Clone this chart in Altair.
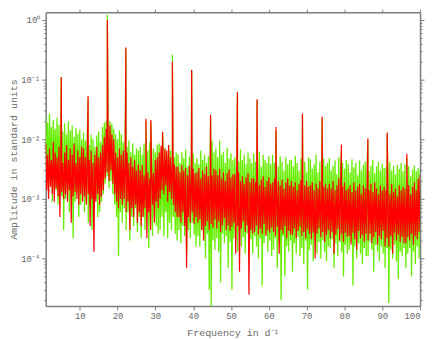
import altair as alt
import pandas as pd

# frequency grid of the noise background (d^-1), 0.25 d^-1 apart, 1 .. 100
freqs = [round(1 + 0.25 * i, 2) for i in range(397)]

# green spectrum, background amplitudes in units of 1e-4 (20 values per 5 d^-1)
green_noise = [
    240, 18, 190, 12, 270, 22, 160, 9, 210, 25, 150, 14, 230, 8, 175, 20, 200, 11, 135, 3,
    185, 10, 120, 15, 200, 6, 140, 12, 170, 2.2, 110, 9, 155, 13, 125, 5, 145, 8, 100, 11,
    130, 6, 95, 9, 140, 4, 80, 8, 120, 3, 100, 7, 75, 10, 115, 5, 135, 6, 90, 9,
    160, 12, 190, 18, 205, 24, 170, 15, 200, 20, 180, 12, 150, 8, 120, 5, 100, 1.1, 140, 6,
    120, 4, 90, 7, 110, 3, 75, 6, 95, 2, 60, 5, 85, 3.5, 55, 7, 70, 2.8, 65, 5,
    75, 2.2, 55, 5, 85, 3, 45, 6, 65, 1.5, 90, 4, 50, 2.4, 70, 5, 60, 3.5, 80, 2.6,
    85, 3, 60, 5, 95, 2.4, 70, 6, 55, 2.2, 80, 4, 65, 3, 90, 5, 50, 2.6, 60, 2,
    55, 3, 40, 1.8, 62, 3.5, 48, 2.4, 68, 1.2, 35, 3, 52, 2.2, 45, 4, 58, 2.5, 40, 1.6,
    48, 2.4, 38, 1.6, 65, 3, 45, 2, 55, 1.0, 40, 2.6, 52, 0.3, 70, 0.16, 95, 2, 60, 1.4,
    70, 2.2, 50, 1.3, 95, 0.4, 55, 2.6, 62, 1.8, 40, 2.4, 72, 0.7, 48, 1.9, 58, 0.3, 45, 2.2,
    50, 2.0, 62, 1.3, 42, 2.8, 68, 1.6, 45, 2.3, 55, 1.2, 38, 2.6, 60, 1.5, 48, 2.1, 40, 1.2,
    58, 2.4, 42, 1.6, 50, 1.0, 62, 2.2, 35, 0.35, 55, 1.8, 45, 2.5, 40, 1.3, 52, 2, 38, 1.1,
    55, 1.4, 40, 2.2, 48, 0.7, 35, 1.8, 52, 0.2, 42, 2.4, 30, 0.5, 50, 1.6, 38, 1.3, 45, 2.0,
    45, 0.6, 35, 1.8, 53, 1.2, 40, 2.3, 30, 1.1, 48, 1.5, 36, 0.8, 42, 2.0, 28, 0.3, 50, 1.4,
    46, 1.7, 32, 0.9, 38, 2.2, 55, 1.2, 28, 1.9, 42, 1.0, 33, 2.0, 48, 1.3, 36, 0.9, 40, 1.6,
    48, 1.5, 30, 2.1, 36, 0.7, 44, 1.8, 26, 1.1, 50, 1.9, 34, 1.3, 40, 0.5, 32, 1.7, 45, 1.2,
    38, 1.4, 28, 1.9, 46, 0.35, 34, 1.6, 40, 1.0, 25, 1.8, 44, 1.2, 30, 0.8, 37, 1.5, 42, 1.1,
    40, 1.1, 29, 1.9, 36, 1.4, 45, 0.6, 27, 1.7, 35, 1.3, 42, 0.9, 30, 1.6, 39, 1.2, 33, 0.7,
    34, 1.5, 28, 0.18, 42, 1.4, 30, 1.0, 36, 1.7, 26, 0.9, 37, 0.45, 32, 1.3, 40, 1.1, 29, 1.5,
    38, 0.7, 27, 1.2, 35, 1.5, 24, 0.5, 31, 1.3, 36, 0.8, 29, 1.6, 33, 1.0, 30,
]

# red spectrum, background amplitudes in units of 1e-4 (20 values per 5 d^-1)
red_noise = [
    85, 14, 55, 10, 70, 16, 45, 12, 90, 9, 60, 15, 50, 11, 75, 5, 65, 13, 40, 10,
    60, 12, 80, 9, 45, 14, 70, 4, 55, 11, 85, 13, 40, 10, 65, 8, 50, 12, 75, 9,
    70, 11, 50, 8, 60, 12, 45, 3.5, 65, 10, 40, 1.3, 55, 9, 75, 12, 50, 8, 60, 11,
    80, 14, 110, 22, 150, 28, 130, 20, 170, 30, 120, 18, 100, 12, 60, 9, 50, 7, 70, 10,
    55, 8, 65, 10, 45, 6, 60, 9, 40, 3, 50, 7, 35, 5, 45, 8, 30, 4, 38, 6,
    30, 3.5, 37, 5, 25, 7, 33, 2.2, 28, 6, 22, 3, 35, 8, 27, 4, 45, 9, 50, 7,
    60, 10, 78, 14, 55, 12, 70, 17, 65, 9, 80, 13, 50, 10, 45, 8, 38, 6, 35, 5,
    35, 5, 28, 4, 37, 6, 30, 3.5, 33, 0.7, 25, 5, 36, 4, 28, 6, 32, 3.8, 27, 5,
    28, 4, 33, 4.5, 22, 3, 30, 2, 26, 3.5, 35, 4.2, 24, 3, 30, 3.8, 25, 3.3, 32, 4.5,
    30, 3.2, 25, 4.2, 32, 2.8, 22, 3.6, 28, 4.8, 20, 3, 27, 3.6, 31, 2.9, 23, 3.4, 26, 4,
    26, 1.2, 22, 3.5, 28, 0.6, 20, 3.2, 24, 4.2, 18, 2.8, 23, 3.6, 27, 0.25, 19, 3, 22, 2.6,
    22, 2.8, 19, 3.6, 25, 2.5, 17, 3.2, 21, 2.6, 24, 3.8, 16, 2.4, 20, 3, 23, 2.7, 18, 3.3,
    19, 2.8, 22, 2.4, 16, 3.4, 20, 1.2, 17, 3, 21, 2.6, 15, 3.5, 19, 2.2, 22, 2.9, 17, 2.5,
    20, 2.5, 16, 3.2, 19, 2.2, 14, 2.9, 18, 3.4, 21, 2.4, 15, 2.8, 17, 2.2, 20, 3.1, 16, 2.6,
    17, 2.1, 19, 2.7, 14, 1.0, 18, 2.6, 15, 3.2, 20, 2.3, 13, 2.8, 16, 1.9, 18, 2.5, 15, 3,
    18, 2.2, 15, 2.8, 20, 1.2, 14, 2.5, 17, 3.1, 22, 2, 15, 2.6, 16, 1.9, 19, 2.7, 14, 2.3,
    15, 2.4, 17, 1.7, 13, 2.7, 19, 2.1, 14, 1.4, 16, 2.9, 18, 2.2, 12, 2.5, 17, 1.9, 15, 2.6,
    16, 2.0, 14, 2.6, 18, 1.8, 13, 2.3, 19, 2.8, 15, 1.7, 12, 2.4, 17, 2.1, 14, 2.9, 16, 1.6,
    14, 2.2, 16, 1.6, 12, 2.4, 18, 1.2, 13, 2.7, 15, 2.0, 11, 2.5, 17, 1.9, 14, 2.3, 16, 1.8,
    15, 1.8, 13, 2.3, 17, 2.0, 12, 2.6, 16, 1.7, 19, 2.4, 14, 2.1, 22, 2.8, 25,
]
assert len(green_noise) == len(freqs) and len(red_noise) == len(freqs)

# pulsation peaks (frequency in d^-1, amplitude)
spike_freq = [5.1, 12.2, 17.3, 22.2, 27.5, 28.8, 31.9, 34.5, 39.6, 44.6,
              51.7, 56.9, 61.9, 68.9, 74.1, 79.2, 86.2, 91.3, 96.5]
green_spike = [0.108, 0.048, 1.22, 0.33, 0.020, 0.019, 0.0125, 0.26, 0.14, 0.023,
               0.058, 0.045, 0.014, 0.025, 0.022, 0.0065, 0.0095, 0.012, 0.005]
red_spike = [0.111, 0.053, 1.0, 0.345, 0.022, 0.021, 0.0133, 0.2, 0.145, 0.026,
             0.062, 0.047, 0.016, 0.027, 0.024, 0.0082, 0.0104, 0.013, 0.0057]

x_ticks = [10, 20, 30, 40, 50, 60, 70, 80, 90, 100]
y_major = [1e-05, 0.0001, 0.001, 0.01, 0.1, 1.0]
y_labels = ["10⁻⁵", "10⁻⁴", "10⁻³", "10⁻²", "10⁻¹", "10⁰"]
y_ticks = [float(f"{k}e{n}") for n in range(-5, 1) for k in range(1, 10)
           if 1.6e-5 <= float(f"{k}e{n}") <= 1.35]

df_green = pd.DataFrame({
    "freq": freqs + spike_freq,
    "amp": [v * 1e-4 for v in green_noise] + green_spike,
}).sort_values("freq")
df_red = pd.DataFrame({
    "freq": freqs + spike_freq,
    "amp": [v * 1e-4 for v in red_noise] + red_spike,
}).sort_values("freq")

FONT = "Liberation Mono"
AX = "#7d7d7d"
TXT = "#686868"

label_expr = " : ".join(
    f"datum.value == {v!r} ? '{t}'" for v, t in zip(y_major, y_labels)
) + " : ''"
major_test = "indexof([" + ",".join(repr(v) for v in y_major) + "], datum.value) >= 0"
tick_size = {"condition": {"test": major_test, "value": 4}, "value": 2}

xscale = alt.Scale(domain=[1, 100], nice=False, zero=False)
yscale = alt.Scale(type="log", domain=[1.6e-5, 1.35], nice=False)

common = dict(grid=False, domainColor=AX, tickColor=AX, domainWidth=1.5, tickWidth=1,
              labelFont=FONT, labelFontSize=9, labelColor=TXT,
              titleFont=FONT, titleFontSize=10, titleColor=TXT, titleFontWeight="normal")

x_bottom = alt.Axis(orient="bottom", values=x_ticks, tickSize=4, labelPadding=2,
                    title="Frequency in d⁻¹", titlePadding=7, **common)
x_top = alt.Axis(orient="top", values=x_ticks, tickSize=3, labels=False, title="", **common)
y_left = alt.Axis(orient="left", values=y_ticks, tickSize=tick_size, labelExpr=label_expr,
                  labelPadding=2, title="Amplitude in standard units",
                  titleX=-27, titleY=148, titleAngle=270, titleBaseline="bottom", **common)
y_right = alt.Axis(orient="right", values=y_ticks, tickSize=tick_size, labels=False,
                   title="", **common)

green = alt.Chart(df_green).mark_line(color="#66ee00", strokeWidth=1.3, clip=True).encode(
    x=alt.X("freq:Q", scale=xscale, axis=x_bottom),
    y=alt.Y("amp:Q", scale=yscale, axis=y_left),
)
red = alt.Chart(df_red).mark_line(color="#ff0000", strokeWidth=1.2, clip=True).encode(
    x=alt.X("freq:Q", scale=xscale, axis=x_top),
    y=alt.Y("amp:Q", scale=yscale, axis=y_right),
)

chart = alt.layer(green, red).resolve_axis(x="independent", y="independent").properties(
    width=377, height=296,
    autosize=alt.AutoSizeParams(type="none"),
    padding={"left": 38, "top": 3, "right": 8, "bottom": 32},
).configure_view(stroke=None)

chart.save("out.html", embed_options={"renderer": "svg", "actions": False})
